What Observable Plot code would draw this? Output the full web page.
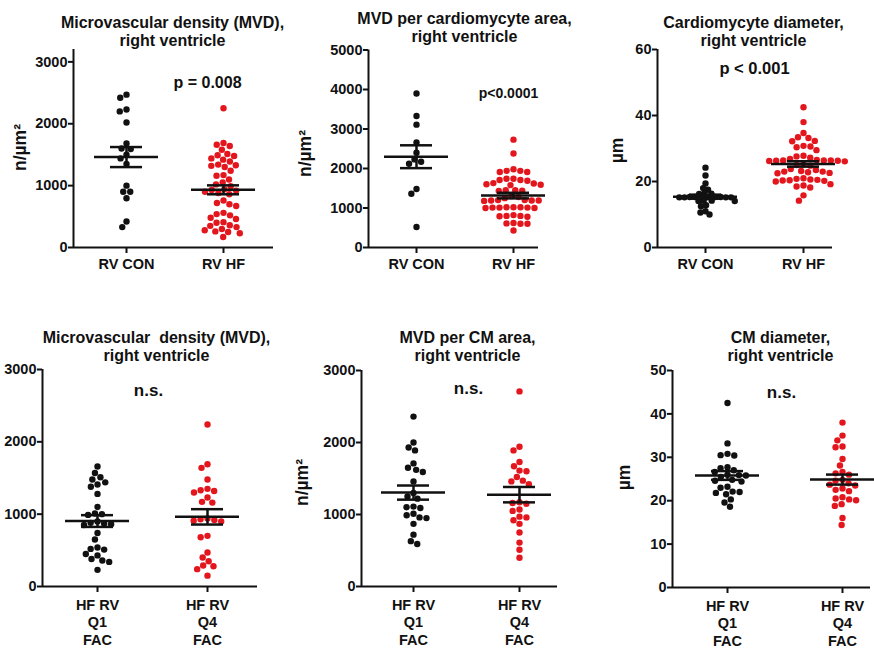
<!DOCTYPE html>
<html><head><meta charset="utf-8">
<script src="https://cdn.jsdelivr.net/npm/d3@7"></script>
<script src="https://cdn.jsdelivr.net/npm/@observablehq/plot@0.6"></script>
<style>
body{margin:0;background:#fff;}
#root{position:relative;width:874px;height:648px;overflow:hidden;background:#fff;}
#root svg{position:absolute;left:0;top:0;}
</style></head><body><div id="root"></div>
<script>
// ---------- data ----------
const topCategories = ["RV CON", "RV HF"];
const bottomCategories = ["HF RV\nQ1\nFAC", "HF RV\nQ4\nFAC"];

const titles = [
  "Microvascular density (MVD),\nright ventricle",
  "MVD per cardiomycyte area,\nright ventricle",
  "Cardiomycyte diameter,\nright ventricle",
  "Microvascular  density (MVD),\nright ventricle",
  "MVD per CM area,\nright ventricle",
  "CM diameter,\nright ventricle"
];
const pTexts = ["p = 0.008", "p<0.0001", "p < 0.001", "n.s.", "n.s.", "n.s."];
const yLabels = ["n/µm²", "n/µm²", "µm", null, "n/µm²", "µm"];

const yTicks1 = [0, 1000, 2000, 3000];
const yTicks2 = [0, 1000, 2000, 3000, 4000, 5000];
const yTicks3 = [0, 20, 40, 60];
const yTicks4 = [0, 1000, 2000, 3000];
const yTicks5 = [0, 1000, 2000, 3000];
const yTicks6 = [0, 10, 20, 30, 40, 50];

const p1Con = [2470, 2420, 2230, 2200, 2020, 1680, 1600, 1590, 1500, 1440, 1350, 1000, 900, 900, 795, 420, 330];
const p1Hf = [2250, 1690, 1660, 1640, 1580, 1510, 1490, 1480, 1440, 1420, 1390, 1340, 1330, 1320, 1300, 1240, 1170, 1160, 1100, 1050, 1020, 990, 940, 930, 920, 900, 880, 860, 760, 720, 700, 670, 560, 540, 520, 480, 460, 410, 400, 360, 350, 330, 300, 280, 260, 250, 230, 170];

const p2Con = [3900, 3330, 3110, 2660, 2400, 2230, 2170, 2120, 1480, 1360, 520];
const p2Hf = [2730, 2380, 1980, 1940, 1910, 1910, 1940, 1740, 1690, 1710, 1710, 1740, 1620, 1580, 1600, 1590, 1630, 1450, 1440, 1450, 1430, 1300, 1280, 1250, 1190, 1200, 1190, 1180, 1200, 1190, 1010, 1020, 1000, 1010, 1020, 1000, 1010, 1020, 800, 780, 820, 790, 800, 610, 600, 620, 600, 430];

const p3Con = [24.2, 21.8, 19.4, 18.0, 17.5, 16.4, 16.3, 16.2, 15.3, 15.3, 15.2, 15.2, 15.2, 15.3, 15.2, 15.3, 15.2, 14.2, 14.1, 14.2, 14.1, 12.8, 12.5, 11.0, 10.6, 10.0];
const p3Hf = [42.5, 38.0, 34.7, 33.4, 33.2, 32.3, 32.2, 30.8, 30.6, 30.4, 29.5, 27.8, 27.6, 27.2, 26.8, 26.4, 26.3, 26.2, 26.4, 26.5, 26.3, 26.1, 26.4, 25.2, 25.0, 24.8, 23.8, 23.5, 23.2, 23.0, 23.0, 22.8, 22.6, 22.5, 21.0, 20.8, 20.6, 20.5, 20.4, 20.3, 20.2, 20.0, 19.2, 18.8, 18.5, 18.2, 15.8, 14.2];

const p4Q1 = [1660, 1570, 1510, 1480, 1440, 1410, 1380, 1280, 1100, 1010, 1000, 990, 900, 880, 870, 860, 850, 740, 650, 540, 520, 510, 450, 430, 380, 360, 340, 230];
const p4Q4 = [2240, 1690, 1640, 1480, 1350, 1330, 1320, 1300, 1230, 1170, 1160, 940, 930, 920, 910, 900, 700, 680, 470, 400, 350, 290, 280, 240, 150];

const p5Q1 = [2360, 2000, 1930, 1890, 1710, 1650, 1620, 1590, 1460, 1300, 1250, 1220, 1110, 1100, 1090, 1010, 990, 960, 950, 870, 720, 630, 590];
const p5Q4 = [2710, 1940, 1890, 1730, 1670, 1610, 1600, 1520, 1470, 1460, 1420, 1170, 1160, 1150, 1070, 1050, 970, 960, 920, 870, 750, 610, 510, 400];

const p6Q1 = [42.5, 33.2, 30.8, 30.5, 30.4, 27.7, 27.5, 27.0, 26.6, 26.0, 25.9, 25.8, 25.5, 24.8, 24.6, 24.4, 23.2, 23.0, 22.1, 22.0, 21.8, 21.5, 20.3, 19.6, 18.6];
const p6Q4 = [38.0, 35.0, 33.9, 32.5, 32.3, 29.6, 28.1, 26.6, 26.3, 26.0, 24.8, 24.6, 24.0, 23.7, 23.5, 22.8, 22.5, 22.2, 20.8, 20.5, 20.3, 20.1, 19.2, 18.8, 16.0, 14.4];

// ---------- layout / style ----------
const FONT = "'Liberation Sans', Arial, Helvetica, sans-serif";
const groupColors = ["#111111", "#e3161e"];
const panels = [
  {title: titles[0], p: pTexts[0], yl: yLabels[0], cats: topCategories, series: [p1Con, p1Hf], ticks: yTicks1, yMax: 3200,
   L: 73, R: 273, T: 49, B: 247, gx: [126, 223], titleAt: [172, 31], pAt: [207, 82], pSize: 16, ylAt: [20, 147], tickPad: 3, gap: [7, 7]},
  {title: titles[1], p: pTexts[1], yl: yLabels[1], cats: topCategories, series: [p2Con, p2Hf], ticks: yTicks2, yMax: 5000,
   L: 368, R: 538, T: 49.5, B: 247, gx: [416, 513], titleAt: [464, 27], pAt: [508, 93], pSize: 14, ylAt: [305, 153], tickPad: 3, gap: [7, 7]},
  {title: titles[2], p: pTexts[2], yl: yLabels[2], cats: topCategories, series: [p3Con, p3Hf], ticks: yTicks3, yMax: 60,
   L: 657, R: 832, T: 49, B: 247, gx: [705, 803], titleAt: [753, 31], pAt: [754, 68], pSize: 16.5, ylAt: [617, 150], tickPad: 3, gap: [5.2, 7]},
  {title: titles[3], p: pTexts[3], yl: yLabels[3], cats: bottomCategories, series: [p4Q1, p4Q4], ticks: yTicks4, yMax: 3000,
   L: 42, R: 257, T: 369, B: 586, gx: [97, 207], titleAt: [156, 346], pAt: [148, 390], pSize: 17, ylAt: [0, 478], tickPad: 5, gap: [7, 7]},
  {title: titles[4], p: pTexts[4], yl: yLabels[4], cats: bottomCategories, series: [p5Q1, p5Q4], ticks: yTicks5, yMax: 3000,
   L: 361, R: 557, T: 370, B: 586, gx: [413, 519], titleAt: [467, 346], pAt: [468, 388], pSize: 17, ylAt: [302, 482], tickPad: 5, gap: [7, 7]},
  {title: titles[5], p: pTexts[5], yl: yLabels[5], cats: bottomCategories, series: [p6Q1, p6Q4], ticks: yTicks6, yMax: 50,
   L: 672, R: 870, T: 370, B: 587, gx: [727, 842], titleAt: [780, 346], pAt: [781, 392], pSize: 17, ylAt: [624, 477], tickPad: 5, gap: [7, 7]}
];
const W = 874, H = 648;
const DOT_R = 3.2, MEAN_HALF = 32, SEM_HALF = 16;

// beeswarm offsets (pixels) computed from the values and the y scale
function swarm(values, yPx, D) {
  const order = d3.range(values.length).sort((a, b) => d3.descending(values[a], values[b]));
  const placed = [], off = new Array(values.length);
  for (const i of order) {
    const y = yPx(values[i]);
    const near = placed.filter(p => Math.abs(p.y - y) < D);
    const cands = [0];
    for (const p of near) {
      const dx = Math.sqrt(D * D - (p.y - y) ** 2);
      cands.push(p.x + dx, p.x - dx);
    }
    cands.sort((a, b) => Math.abs(a) - Math.abs(b) || a - b);
    let x = 0;
    for (const c of cands) {
      if (near.every(p => (p.x - c) ** 2 + (p.y - y) ** 2 >= D * D - 1e-6)) { x = c; break; }
    }
    placed.push({x, y});
    off[i] = x;
  }
  return off;
}

const root = document.getElementById("root");
for (const P of panels) {
  const step = P.gx[1] - P.gx[0];
  const xmin = -(P.gx[0] - P.L) / step;
  const xmax = 1 + (P.R - P.gx[1]) / step;
  const yScale = Plot.scale({y: {domain: [0, P.yMax], range: [P.B, P.T]}});
  const points = [], stats = [];
  P.series.forEach((vals, g) => {
    const off = swarm(vals, v => yScale.apply(v), P.gap[g]);
    vals.forEach((v, i) => points.push({g, v, x: g + off[i] / step}));
    const m = d3.mean(vals), se = d3.deviation(vals) / Math.sqrt(vals.length);
    stats.push({g, mean: m, lo: m - se, hi: m + se});
  });
  const mh = MEAN_HALF / step, sh = SEM_HALF / step;
  const txt = {frameAnchor: "top-left", textAnchor: "middle", lineAnchor: "middle", fontWeight: "bold", fill: "#111"};
  const marks = [
    Plot.ruleY([0], {stroke: "#111", strokeWidth: 2}),
    Plot.ruleX([xmin], {stroke: "#111", strokeWidth: 2}),
    Plot.axisY({ticks: P.ticks, tickSize: 5, tickPadding: 1, strokeWidth: 2, label: null, fontSize: 14.5, fontWeight: "bold", tickFormat: d => String(d)}),
    Plot.axisX({ticks: [0, 1], tickSize: 6, tickPadding: P.tickPad, strokeWidth: 2, label: null, fontSize: 14.5, fontWeight: "bold", lineHeight: 1.2, tickFormat: i => P.cats[i]}),
    ...[0, 1].map(g => Plot.dot(points.filter(d => d.g === g), {x: "x", y: "v", r: DOT_R, fill: groupColors[g], stroke: null})),
    Plot.ruleY(stats, {y: "mean", x1: d => d.g - mh, x2: d => d.g + mh, stroke: "#111", strokeWidth: 2.5}),
    Plot.ruleY(stats, {y: "hi", x1: d => d.g - sh, x2: d => d.g + sh, stroke: "#111", strokeWidth: 2.5}),
    Plot.ruleY(stats, {y: "lo", x1: d => d.g - sh, x2: d => d.g + sh, stroke: "#111", strokeWidth: 2.5}),
    Plot.ruleX(stats, {x: "g", y1: "lo", y2: "hi", stroke: "#111", strokeWidth: 2.5}),
    Plot.text([P.title], {...txt, dx: P.titleAt[0] - P.L, dy: P.titleAt[1] - P.T, fontSize: 16, lineHeight: 1.1}),
    Plot.text([P.p], {...txt, dx: P.pAt[0] - P.L, dy: P.pAt[1] - P.T, fontSize: P.pSize})
  ];
  if (P.yl) marks.push(Plot.text([P.yl], {...txt, dx: P.ylAt[0] - P.L, dy: P.ylAt[1] - P.T, rotate: -90, fontSize: 17.5}));
  const svg = Plot.plot({
    width: W, height: H,
    marginLeft: P.L, marginRight: W - P.R, marginTop: P.T, marginBottom: H - P.B,
    x: {domain: [xmin, xmax], axis: null},
    y: {domain: [0, P.yMax], axis: null},
    style: {fontFamily: FONT, fontWeight: "bold", color: "#111", background: "none", overflow: "visible"},
    marks
  });
  root.appendChild(svg);
}
</script></body></html>
